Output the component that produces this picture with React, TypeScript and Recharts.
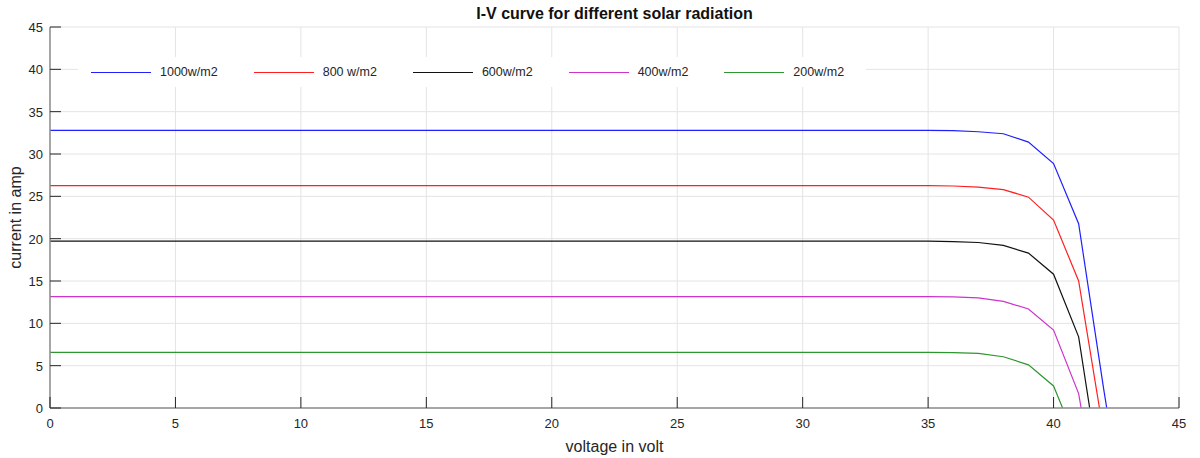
import { LineChart, Line, XAxis, YAxis, CartesianGrid, Legend, Label } from "recharts";

// I-V curves, one polyline per irradiance level (volts / amps)
const v1000 = [0, 35, 36, 37, 38, 39, 40, 41, 42, 42.12];
const i1000 = [32.8, 32.8, 32.77, 32.63, 32.39, 31.4, 28.87, 21.77, 2.2, 0];

const v800 = [0, 35, 36, 37, 38, 39, 40, 41, 41.83];
const i800 = [26.27, 26.27, 26.22, 26.08, 25.8, 24.9, 22.2, 15.0, 0];

const v600 = [0, 35, 36, 37, 38, 39, 40, 41, 41.44];
const i600 = [19.7, 19.7, 19.66, 19.55, 19.2, 18.3, 15.8, 8.4, 0];

const v400 = [0, 35, 36, 37, 38, 39, 40, 41, 41.1];
const i400 = [13.15, 13.15, 13.12, 13.0, 12.6, 11.7, 9.2, 1.7, 0];

const v200 = [0, 35, 36, 37, 38, 39, 40, 40.36];
const i200 = [6.56, 6.56, 6.54, 6.45, 6.05, 5.1, 2.6, 0];

const xTicks = [0, 5, 10, 15, 20, 25, 30, 35, 40, 45];
const yTicks = [0, 5, 10, 15, 20, 25, 30, 35, 40, 45];

const zip = (v: number[], i: number[]) => v.map((x, k) => ({ v: x, i: i[k] }));

const series = [
  { name: "1000w/m2", color: "#1f1fff", data: zip(v1000, i1000) },
  { name: "800 w/m2", color: "#ff1f1f", data: zip(v800, i800) },
  { name: "600w/m2", color: "#111111", data: zip(v600, i600) },
  { name: "400w/m2", color: "#cc33cc", data: zip(v400, i400) },
  { name: "200w/m2", color: "#2e962e", data: zip(v200, i200) },
];

const FONT = "'Liberation Sans', Arial, sans-serif";
const AXIS = "#8c8c8c";
const TICK = "#262626";
const TICK_LEN = 11;

const BottomTick = ({ x, y, payload }: any) => (
  <g>
    <line x1={x} x2={x} y1={y} y2={y - TICK_LEN} stroke={TICK} />
    <text x={x} y={y + 20} textAnchor="middle" fontSize={13} fill={TICK} fontFamily={FONT}>
      {payload.value}
    </text>
  </g>
);

const TopTick = ({ x, y }: any) => (
  <line x1={x} x2={x} y1={y} y2={y + TICK_LEN} stroke={TICK} />
);

const LeftTick = ({ x, y, payload }: any) => (
  <g>
    <line x1={x} x2={x + TICK_LEN} y1={y} y2={y} stroke={TICK} />
    <text x={x - 7} y={y + 5} textAnchor="end" fontSize={13} fill={TICK} fontFamily={FONT}>
      {payload.value}
    </text>
  </g>
);

const RightTick = ({ x, y }: any) => (
  <line x1={x - TICK_LEN} x2={x} y1={y} y2={y} stroke={TICK} />
);

const renderLegend = () => (
  <div
    style={{
      display: "flex",
      alignItems: "center",
      height: 30,
      background: "#fff",
      paddingLeft: 13,
      fontFamily: FONT,
      whiteSpace: "nowrap",
    }}
  >
    {series.map((s) => (
      <div key={s.name} style={{ display: "flex", alignItems: "center", marginRight: 36, flexShrink: 0 }}>
        <span style={{ width: 60, height: 0, borderTop: `1px solid ${s.color}` }} />
        <span style={{ marginLeft: 9, fontSize: 12.5, color: TICK }}>{s.name}</span>
      </div>
    ))}
  </div>
);

export default function App() {
  return (
    <div style={{ position: "absolute", left: 0, top: 0, width: 1200, height: 458, background: "#fff" }}>
      <div
        style={{
          position: "absolute",
          left: 50,
          width: 1129,
          top: 5,
          textAlign: "center",
          fontFamily: FONT,
          fontWeight: "bold",
          fontSize: 16,
          color: "#111",
        }}
      >
        I-V curve for different solar radiation
      </div>
      <LineChart width={1200} height={458} margin={{ top: 27, right: 21, left: 0, bottom: 0 }}>
        <CartesianGrid stroke="#e4e4e4" horizontalValues={yTicks} verticalValues={xTicks} />
        <XAxis
          dataKey="v"
          type="number"
          domain={[0, 45]}
          ticks={xTicks}
          interval={0}
          height={50}
          tickSize={0}
          tickMargin={0}
          tickLine={false}
          tick={<BottomTick />}
          axisLine={{ stroke: AXIS, strokeWidth: 1.5 }}
          allowDataOverflow
        >
          <Label
            value="voltage in volt"
            position="insideBottom"
            offset={6}
            style={{ fontSize: 16, fill: TICK, fontFamily: FONT }}
          />
        </XAxis>
        <XAxis
          xAxisId="top"
          orientation="top"
          type="number"
          domain={[0, 45]}
          ticks={xTicks}
          interval={0}
          height={0}
          tickSize={0}
          tickMargin={0}
          tickLine={false}
          tick={<TopTick />}
          axisLine={{ stroke: AXIS, strokeWidth: 1.5 }}
          allowDataOverflow
        />
        <YAxis
          type="number"
          domain={[0, 45]}
          ticks={yTicks}
          interval={0}
          width={50}
          tickSize={0}
          tickMargin={0}
          tickLine={false}
          tick={<LeftTick />}
          axisLine={{ stroke: AXIS, strokeWidth: 1.5 }}
          allowDataOverflow
        >
          <Label
            value="current in amp"
            angle={-90}
            position="center"
            dx={-10}
            style={{ fontSize: 16, fill: TICK, fontFamily: FONT, textAnchor: "middle" }}
          />
        </YAxis>
        <YAxis
          yAxisId="right"
          orientation="right"
          type="number"
          domain={[0, 45]}
          ticks={yTicks}
          interval={0}
          width={0}
          tickSize={0}
          tickMargin={0}
          tickLine={false}
          tick={<RightTick />}
          axisLine={{ stroke: AXIS, strokeWidth: 1.5 }}
          allowDataOverflow
        />
        <Legend
          layout="horizontal"
          verticalAlign="middle"
          align="center"
          content={renderLegend}
          wrapperStyle={{ position: "absolute", left: 78, top: 57, width: 788, height: 30 }}
        />
        {series.map((s) => (
          <Line
            key={s.name}
            data={s.data}
            dataKey="i"
            name={s.name}
            type="linear"
            stroke={s.color}
            strokeWidth={1.2}
            dot={false}
            activeDot={false}
            isAnimationActive={false}
          />
        ))}
      </LineChart>
    </div>
  );
}
